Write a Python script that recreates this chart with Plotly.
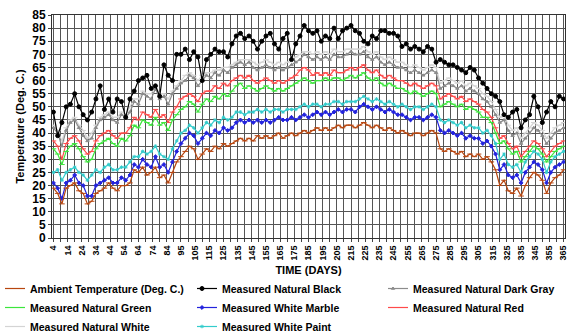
import plotly.graph_objects as go

# Category positions (every 3rd recorded day; 361 daily categories, day 85 absent)
sample_index = list(range(0, 361, 3))

x_tick_labels = ['4', '14', '24', '34', '44', '54', '64', '74', '84', '95', '105', '115', '125',
                 '135', '145', '155', '165', '175', '185', '195', '205', '215', '225', '235',
                 '245', '255', '265', '275', '285', '295', '305', '315', '325', '335', '345',
                 '355', '365']

ambient = [19, 17, 13, 19, 20, 21, 18, 17, 13, 14, 17, 18, 19, 21, 19, 18, 20, 20, 21, 26,
           25, 27, 24, 25, 27, 23, 24, 21, 25, 29, 31, 33, 35, 34, 30, 32, 34, 33, 35, 34,
           36, 35, 36, 37, 38, 37, 38, 37, 39, 38, 39, 38, 39, 40, 38, 39, 40, 39, 40, 41,
           40, 41, 42, 41, 42, 41, 42, 43, 42, 43, 43, 42, 43, 44, 43, 42, 43, 42, 41, 42,
           41, 40, 41, 40, 39, 40, 40, 39, 40, 41, 40, 34, 33, 34, 33, 32, 33, 31, 32, 31,
           32, 30, 31, 29, 26, 20, 22, 18, 17, 19, 16, 20, 23, 25, 24, 22, 17, 21, 23, 24, 26]

nat_black = [48, 39, 44, 50, 51, 55, 50, 47, 45, 48, 53, 58, 49, 53, 48, 53, 52, 46, 53, 56,
             60, 61, 62, 57, 58, 54, 66, 62, 60, 70, 70, 72, 68, 71, 69, 60, 68, 70, 72, 71,
             71, 69, 74, 77, 78, 76, 77, 75, 72, 75, 77, 78, 74, 72, 76, 78, 68, 74, 77, 81,
             79, 78, 79, 75, 77, 76, 80, 76, 79, 80, 81, 79, 78, 75, 74, 77, 76, 79, 79, 78,
             78, 77, 73, 74, 72, 73, 72, 71, 73, 72, 67, 68, 67, 66, 66, 65, 64, 63, 65, 64,
             61, 59, 57, 55, 54, 52, 47, 46, 48, 49, 42, 45, 47, 54, 50, 44, 48, 52, 50, 54, 53]

nat_dark_gray = [42, 40, 35, 41, 44, 45, 42, 39, 37, 38, 42, 45, 46, 47, 45, 44, 47, 46, 48, 52,
                 51, 55, 54, 53, 57, 53, 54, 51, 55, 57, 59, 60, 62, 61, 58, 60, 62, 61, 63, 62,
                 64, 63, 65, 66, 67, 66, 67, 65, 64, 65, 66, 65, 64, 65, 64, 65, 66, 67, 68, 70,
                 69, 68, 69, 68, 69, 68, 70, 69, 69, 70, 71, 70, 70, 71, 69, 68, 69, 67, 66, 67,
                 66, 65, 65, 64, 63, 64, 63, 62, 63, 64, 63, 57, 58, 59, 58, 57, 58, 56, 57, 56,
                 55, 53, 52, 50, 47, 44, 45, 41, 39, 40, 36, 38, 40, 42, 41, 39, 36, 38, 40, 41, 42]

nat_green = [34, 32, 28, 33, 35, 36, 34, 31, 29, 30, 34, 36, 37, 38, 36, 35, 38, 37, 39, 43,
             42, 45, 44, 43, 46, 43, 44, 41, 45, 47, 49, 50, 52, 51, 48, 51, 53, 52, 54, 53,
             55, 54, 56, 58, 59, 57, 58, 57, 56, 57, 58, 57, 56, 57, 56, 57, 58, 59, 60, 61,
             60, 59, 60, 60, 61, 60, 61, 61, 60, 61, 62, 61, 62, 63, 61, 60, 61, 59, 58, 59,
             58, 57, 57, 56, 55, 56, 55, 54, 55, 56, 55, 50, 51, 52, 51, 50, 51, 49, 50, 49,
             48, 46, 46, 44, 40, 36, 37, 34, 32, 33, 29, 31, 33, 35, 34, 32, 29, 31, 33, 34, 35]

white_marble = [21, 19, 15, 21, 22, 24, 21, 20, 16, 16, 20, 21, 22, 23, 21, 21, 23, 22, 24, 28,
                27, 30, 28, 27, 31, 27, 28, 25, 29, 33, 36, 38, 40, 39, 36, 38, 40, 39, 41, 40,
                42, 41, 42, 44, 45, 44, 45, 44, 45, 44, 45, 44, 45, 46, 45, 45, 46, 45, 46, 47,
                46, 47, 48, 47, 48, 47, 48, 49, 48, 49, 49, 48, 50, 51, 50, 49, 50, 49, 48, 49,
                48, 47, 47, 46, 45, 46, 46, 45, 46, 47, 46, 41, 40, 41, 40, 39, 40, 38, 39, 38,
                38, 36, 37, 35, 32, 26, 28, 24, 23, 24, 21, 25, 27, 29, 28, 26, 21, 25, 27, 28, 29]

nat_red = [37, 35, 30, 36, 38, 39, 37, 34, 32, 33, 37, 39, 40, 41, 39, 38, 40, 40, 42, 46,
           45, 48, 47, 46, 49, 46, 47, 44, 48, 50, 53, 54, 55, 54, 52, 55, 56, 56, 58, 57,
           59, 58, 60, 61, 62, 61, 62, 60, 59, 60, 61, 60, 59, 60, 59, 60, 61, 62, 64, 65,
           64, 62, 63, 62, 63, 62, 64, 63, 63, 64, 65, 64, 65, 66, 64, 63, 64, 62, 61, 62,
           61, 60, 60, 59, 58, 59, 58, 57, 58, 59, 58, 53, 54, 55, 54, 53, 54, 52, 53, 52,
           51, 49, 48, 46, 42, 38, 39, 36, 34, 35, 31, 33, 35, 37, 36, 34, 31, 33, 35, 36, 37]

nat_white = [43, 41, 37, 42, 45, 46, 43, 41, 38, 40, 43, 46, 47, 48, 46, 46, 48, 47, 50, 53,
             53, 56, 55, 55, 58, 55, 55, 53, 56, 58, 60, 62, 63, 62, 60, 62, 63, 63, 64, 64,
             65, 65, 66, 67, 68, 68, 68, 67, 66, 67, 68, 67, 66, 67, 66, 67, 68, 69, 70, 71,
             71, 70, 71, 70, 71, 70, 72, 71, 71, 72, 72, 72, 72, 73, 71, 70, 71, 69, 68, 69,
             68, 67, 67, 66, 65, 66, 65, 64, 65, 66, 65, 59, 60, 61, 60, 59, 60, 58, 59, 58,
             57, 55, 54, 52, 49, 46, 47, 43, 41, 42, 38, 40, 42, 44, 43, 41, 38, 40, 42, 43, 44]

white_paint = [25, 26, 22, 25, 26, 27, 25, 24, 22, 24, 26, 25, 27, 28, 26, 26, 27, 27, 29, 31,
               31, 33, 32, 33, 35, 32, 31, 30, 34, 37, 40, 41, 43, 42, 40, 42, 44, 43, 45, 44,
               46, 45, 46, 48, 48, 47, 48, 48, 49, 48, 49, 48, 49, 49, 48, 49, 49, 49, 50, 51,
               50, 51, 51, 50, 51, 51, 52, 52, 51, 52, 52, 52, 53, 54, 53, 52, 53, 52, 51, 52,
               51, 50, 51, 50, 49, 50, 50, 49, 50, 51, 50, 45, 44, 45, 44, 43, 44, 42, 43, 42,
               42, 40, 41, 39, 36, 30, 32, 28, 27, 28, 25, 29, 31, 33, 32, 30, 25, 29, 31, 32, 33]

series = [
    # name, values, color, marker symbol, marker size, legend id, legend rank
    ("Measured Natural White", nat_white, "#d4d4d4", "line-ew", 4, "legend", 3),
    ("Measured Natural Dark Gray", nat_dark_gray, "#8c8c8c", "triangle-up", 3, "legend3", 1),
    ("Measured Natural Red", nat_red, "#ff4a4a", "line-ew", 4, "legend3", 2),
    ("Measured Natural Green", nat_green, "#3ce63c", "line-ew", 4, "legend", 2),
    ("Measured White Paint", white_paint, "#33cccc", "asterisk", 3, "legend2", 3),
    ("Measured White Marble", white_marble, "#2222dd", "diamond", 3, "legend2", 2),
    ("Ambient Temperature (Deg. C.)", ambient, "#b8460f", "line-ew", 4, "legend", 1),
    ("Measured Natural Black", nat_black, "#000000", "circle", 4, "legend2", 1),
]

fig = go.Figure()
for name, vals, color, sym, msize, leg, rank in series:
    assert len(vals) == len(sample_index), name
    fig.add_trace(go.Scatter(
        x=sample_index, y=vals, name=name, mode="lines+markers",
        line=dict(color=color, width=1.2),
        marker=dict(color=color, symbol=sym, size=msize,
                    line=dict(color=color, width=1)),
        legend=leg, legendrank=rank,
    ))

font_family = "Liberation Sans, Arial, sans-serif"
W, H = 575, 334
L, R, T, B = 52, 10, 15, 96
pw = W - L - R
ph = H - T - B

def lx(px):
    return (px - L) / pw

def ly(py):
    return (H - B - py) / ph

leg_common = dict(orientation="v", xanchor="left", yanchor="top", bgcolor="rgba(0,0,0,0)",
                  font=dict(family=font_family, size=10.5, color="#000", weight="bold"),
                  itemwidth=30, tracegroupgap=0, indentation=-15)

fig.update_layout(
    width=W, height=H,
    margin=dict(l=L, r=R, t=T, b=B, autoexpand=False),
    paper_bgcolor="white", plot_bgcolor="white",
    font=dict(family=font_family, color="#000"),
    showlegend=True,
    legend=dict(x=lx(5), y=ly(274), **leg_common),
    legend2=dict(x=lx(197), y=ly(274), **leg_common),
    legend3=dict(x=lx(388), y=ly(274), **leg_common),
)

fig.update_xaxes(
    range=[-1, 361],
    tickmode="array",
    tickvals=list(range(0, 361, 10)),
    ticktext=x_tick_labels,
    tickangle=-90,
    tickfont=dict(family=font_family, size=9, weight="bold"),
    ticks="outside", ticklen=3, tickcolor="#444",
    showgrid=True, gridcolor="#555", gridwidth=1,
    minor=dict(dtick=5, tick0=0, showgrid=True, gridcolor="#555", gridwidth=1,
               ticks="outside", ticklen=3, tickcolor="#444"),
    showline=True, linecolor="#333", linewidth=1, mirror=True,
    zeroline=False, automargin=False,
    title=dict(text="TIME (DAYS)", font=dict(family=font_family, size=11, weight="bold"),
               standoff=6),
)
fig.update_yaxes(
    range=[0, 85],
    tickmode="linear", tick0=0, dtick=5,
    tickfont=dict(family=font_family, size=12, weight="bold"),
    ticks="outside", ticklen=3, tickcolor="#444",
    showgrid=True, gridcolor="#555", gridwidth=1,
    showline=True, linecolor="#333", linewidth=1, mirror=True,
    zeroline=False, automargin=False,
    title=dict(text="Temperature (Deg. C.)", font=dict(family=font_family, size=11, weight="bold"),
               standoff=5),
)

fig.write_html("out.html")
